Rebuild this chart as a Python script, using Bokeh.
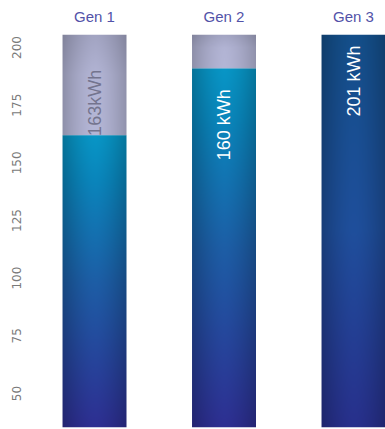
import numpy as np
from math import pi
from bokeh.plotting import figure
from bokeh.models import Range1d, FixedTicker
from bokeh.core.properties import value
from bokeh.embed import file_html
from bokeh.resources import INLINE

# ---- data ----
categories = ["Gen 1", "Gen 2", "Gen 3"]
capacity = [206, 206, 206]        # full bar height (axis top)
charge = [162, 191, 206]          # coloured part of each bar
bar_labels = ["163kWh", "160 kWh", "201 kWh"]
y_ticks = [50, 75, 100, 125, 150, 175, 200]

# ---- style / layout ----
label_y = [176, 166.5, 185.5]
label_colors = ["#74748e", "#ffffff", "#ffffff"]
bar_w = 0.494
y_lo, y_hi = 35.26, 205.64


def hex_rgb(h):
    h = h.lstrip("#")
    return np.array([int(h[i:i + 2], 16) for i in (0, 2, 4)], dtype=float)


def vgrad(stops, n):
    ts = np.linspace(0, 1, n)
    st = [s[0] for s in stops]
    cols = np.array([hex_rgb(s[1]) for s in stops])
    return np.stack([np.interp(ts, st, cols[:, k]) for k in range(3)], axis=1)


def make_img(stops, n_rows, n_cols=64, edge=0.22):
    col = vgrad(stops, n_rows)
    u = np.linspace(-1, 1, n_cols)
    m = 1 - edge * np.abs(u) ** 1.6
    rgb = col[:, None, :] * m[None, :, None]
    rgba = np.zeros((n_rows, n_cols, 4), dtype=np.uint8)
    rgba[..., :3] = np.clip(rgb, 0, 255).astype(np.uint8)
    rgba[..., 3] = 255
    return rgba.view(np.uint32).reshape(n_rows, n_cols)


teal_stops = [(0, "#2e2f92"), (0.5, "#1d5ea6"), (0.85, "#0a86bc"), (1, "#0896c6")]
deep_stops = [(0, "#28308c"), (0.5, "#1f4f9c"), (1, "#144f8a")]
gray_stops = [(0, "#b4b6d6"), (0.6, "#b2b4d4"), (1, "#a2a4c2")]

xs = [i + 1 for i in range(len(categories))]

p = figure(width=385, height=429,
           x_range=Range1d(0.552, 3.247), y_range=Range1d(y_lo, y_hi),
           output_backend="svg", toolbar_location=None,
           x_axis_location="above",
           min_border_left=36, min_border_right=0,
           min_border_top=34, min_border_bottom=2)

for i, x in enumerate(xs):
    top = min(capacity[i], y_hi)
    c = min(charge[i], y_hi)
    stops = deep_stops if charge[i] >= capacity[i] else teal_stops
    h_px = int((c - y_lo) * 2.31) + 2
    p.image_rgba(image=[make_img(stops, h_px)], x=x - bar_w / 2, y=y_lo,
                 dw=bar_w, dh=c - y_lo)
    if top > c:
        g_px = int((top - c) * 2.31) + 2
        p.image_rgba(image=[make_img(gray_stops, g_px, edge=0.2)],
                     x=x - bar_w / 2, y=c, dw=bar_w, dh=top - c)

p.text(x=xs, y=label_y, text=bar_labels, angle=pi / 2,
       text_align="center", text_baseline="middle",
       text_color=label_colors, text_font=value("Liberation Sans"),
       text_font_size="18px")

# axes
p.xaxis.ticker = FixedTicker(ticks=xs)
p.xaxis.major_label_overrides = {x: c for x, c in zip(xs, categories)}
p.xaxis.axis_line_color = None
p.xaxis.major_tick_line_color = None
p.xaxis.minor_tick_line_color = None
p.xaxis.major_label_text_color = "#5252a8"
p.xaxis.major_label_text_font = "Liberation Sans"
p.xaxis.major_label_text_font_size = "15px"
p.xaxis.major_label_standoff = 4

p.yaxis.ticker = FixedTicker(ticks=y_ticks)
p.yaxis.major_label_orientation = "vertical"
p.yaxis.axis_line_color = None
p.yaxis.major_tick_line_color = None
p.yaxis.minor_tick_line_color = None
p.yaxis.major_label_text_color = "#7a7a7a"
p.yaxis.major_label_text_font = "DejaVu Sans"
p.yaxis.major_label_text_font_size = "12px"
p.yaxis.major_label_standoff = 9

p.xgrid.visible = False
p.ygrid.visible = False
p.outline_line_color = None
p.background_fill_color = "white"
p.border_fill_color = "white"

open("out.html", "w").write(file_html(p, INLINE))
